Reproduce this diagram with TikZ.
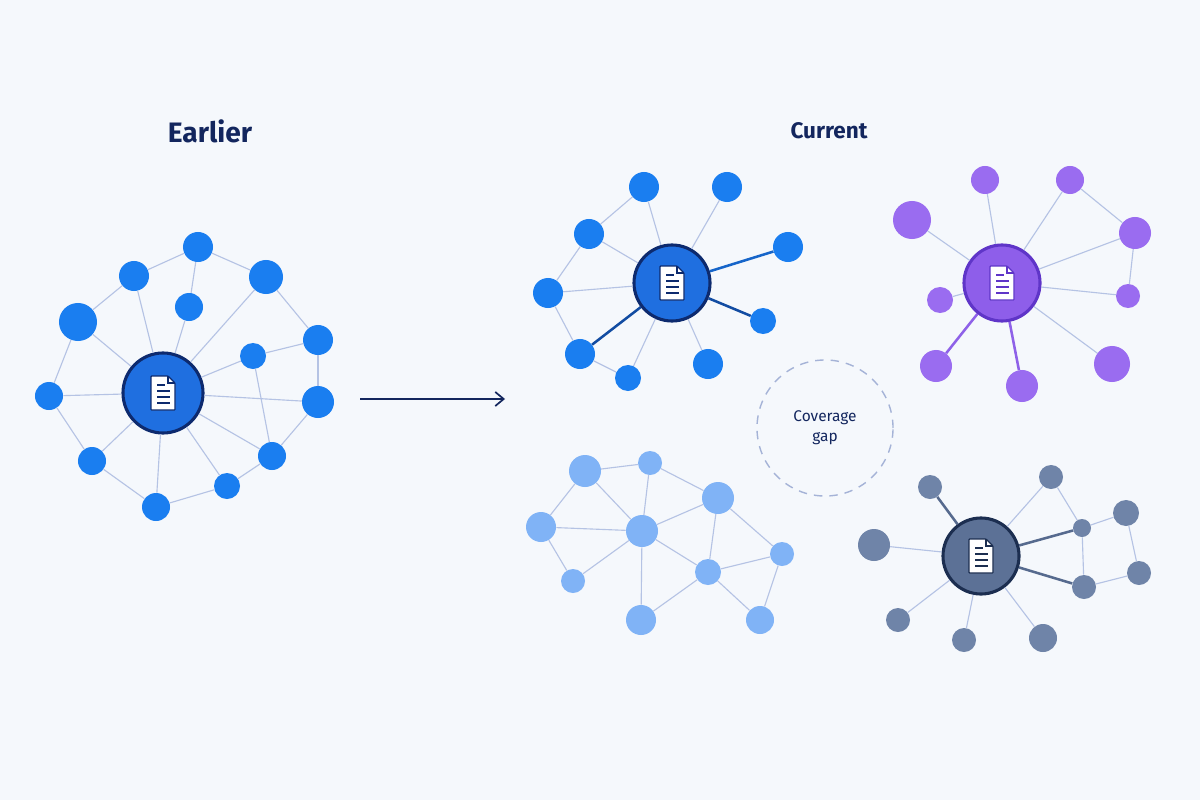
\documentclass[tikz,border=0pt]{standalone}
\usepackage{fontspec}
\setmainfont{Fira Sans}
\usetikzlibrary{arrows.meta}
\definecolor{bgc}{HTML}{F5F8FC}
\definecolor{navy}{HTML}{13265E}
\definecolor{edgec}{HTML}{B5C3E4}
\definecolor{bluec}{HTML}{1A7EF0}
\definecolor{bluehub}{HTML}{1F6FE0}
\definecolor{blueline}{HTML}{0D2A6E}
\definecolor{purc}{HTML}{9A6CF0}
\definecolor{purhub}{HTML}{8E5EEA}
\definecolor{purline}{HTML}{5F35C8}
\definecolor{lbluec}{HTML}{80B3F6}
\definecolor{grayc}{HTML}{6F84A8}
\definecolor{grayhub}{HTML}{5C7196}
\definecolor{grayline}{HTML}{1C2E50}
\tikzset{
  dot/.style={circle,fill=#1,inner sep=0pt,draw=none},
  hub/.style 2 args={circle,fill=#1,draw=#2,line width=2.2pt,inner sep=0pt,minimum size=1.9cm},
  link/.style={draw=edgec,line width=0.8pt},
  strong/.style={draw=#1,line width=1.8pt},
  pics/doc/.style={code={
    \draw[fill=white,draw=#1,line width=0.8pt,rounded corners=0.5pt]
      (-12,-17) -- (5,-17) -- (12,-10) -- (12,17) -- (-12,17) -- cycle;
    \draw[draw=#1,line width=0.8pt] (5,-17) -- (5,-10) -- (12,-10);
    \draw[draw=#1,line width=1.6pt] (-6,-8) -- (2,-8) (-6,-2) -- (7,-2) (-6,4) -- (7,4) (-6,10) -- (7,10);
  }}
}
\begin{document}
\begin{tikzpicture}[x=0.025cm,y=-0.025cm]
  \fill[bgc] (0,0) rectangle (1200,800);
  \useasboundingbox (0,0) rectangle (1200,800);

  % titles
  \node[text=navy,font=\bfseries\fontsize{20}{24}\selectfont] (tearly) at (210,131) {Earlier};
  \node[text=navy,font=\bfseries\fontsize{16}{19}\selectfont] (tcur) at (829,131) {Current};

  % earlier network
  \node[hub={bluehub}{blueline},minimum size=2cm] (h0) at (163,393) {};
  \pic at (h0) {doc=blueline};
  \node[dot=bluec,minimum size=0.75cm] (a1) at (198,247) {};
  \node[dot=bluec,minimum size=0.75cm] (a2) at (134,276) {};
  \node[dot=bluec,minimum size=0.95cm] (a3) at (78,322) {};
  \node[dot=bluec,minimum size=0.7cm] (a4) at (49,396) {};
  \node[dot=bluec,minimum size=0.7cm] (a5) at (92,461) {};
  \node[dot=bluec,minimum size=0.7cm] (a6) at (156,507) {};
  \node[dot=bluec,minimum size=0.65cm] (a7) at (227,486) {};
  \node[dot=bluec,minimum size=0.7cm] (a8) at (272,456) {};
  \node[dot=bluec,minimum size=0.8cm] (a9) at (318,402) {};
  \node[dot=bluec,minimum size=0.75cm] (a10) at (318,340) {};
  \node[dot=bluec,minimum size=0.65cm] (a11) at (253,356) {};
  \node[dot=bluec,minimum size=0.85cm] (a12) at (266,277) {};
  \node[dot=bluec,minimum size=0.7cm] (a13) at (189,307) {};
  \foreach \i in {2,3,4,5,6,7,8,9,11,12,13}
    \draw[link] (h0) -- (a\i);
  \foreach \i/\j in {1/2,1/12,1/13,2/3,3/4,4/5,5/6,6/7,7/8,8/9,8/11,9/10,10/11,12/10}
    \draw[link] (a\i) -- (a\j);

  % arrow
  \coordinate (ar0) at (360,399);
  \coordinate (ar1) at (505,399);
  \draw[navy,line width=1.2pt,-{Straight Barb[length=6pt,width=10pt]}] (ar0) -- (ar1);

  % blue current network
  \node[hub={bluehub}{blueline}] (hb) at (672,283) {};
  \pic at (hb) {doc=blueline};
  \node[dot=bluec,minimum size=0.75cm] (b1) at (644,187) {};
  \node[dot=bluec,minimum size=0.75cm] (b2) at (727,187) {};
  \node[dot=bluec,minimum size=0.75cm] (b3) at (589,234) {};
  \node[dot=bluec,minimum size=0.75cm] (b4) at (788,247) {};
  \node[dot=bluec,minimum size=0.75cm] (b5) at (548,293) {};
  \node[dot=bluec,minimum size=0.65cm] (b6) at (763,321) {};
  \node[dot=bluec,minimum size=0.75cm] (b7) at (580,354) {};
  \node[dot=bluec,minimum size=0.65cm] (b8) at (628,378) {};
  \node[dot=bluec,minimum size=0.75cm] (b9) at (708,364) {};
  \foreach \i in {1,2,3,5,8,9}
    \draw[link] (hb) -- (b\i);
  \draw[strong=bluec!70!blueline] (hb) -- (b4);
  \draw[strong=bluec!40!blueline] (hb) -- (b6);
  \draw[strong=bluec!40!blueline] (hb) -- (b7);
  \foreach \i/\j in {3/1,3/5,5/7,7/8}
    \draw[link] (b\i) -- (b\j);

  % purple network
  \node[hub={purhub}{purline}] (hp) at (1002,283) {};
  \pic at (hp) {doc=purline};
  \node[dot=purc,minimum size=0.7cm] (p1) at (985,180) {};
  \node[dot=purc,minimum size=0.7cm] (p2) at (1070,180) {};
  \node[dot=purc,minimum size=0.95cm] (p3) at (912,220) {};
  \node[dot=purc,minimum size=0.8cm] (p4) at (1135,233) {};
  \node[dot=purc,minimum size=0.65cm] (p5) at (940,300) {};
  \node[dot=purc,minimum size=0.6cm] (p6) at (1128,296) {};
  \node[dot=purc,minimum size=0.8cm] (p7) at (936,366) {};
  \node[dot=purc,minimum size=0.8cm] (p8) at (1022,386) {};
  \node[dot=purc,minimum size=0.9cm] (p9) at (1112,364) {};
  \foreach \i in {1,2,3,4,5,6,9}
    \draw[link] (hp) -- (p\i);
  \draw[strong=purc!80!purline] (hp) -- (p7);
  \draw[strong=purc!80!purline] (hp) -- (p8);
  \draw[link] (p2) -- (p4);
  \draw[link] (p4) -- (p6);

  % coverage gap
  \node[circle,draw=edgec!90!navy,dashed,dash pattern=on 6pt off 5pt,line width=1pt,minimum size=3.4cm,
        align=center,text=navy,font=\fontsize{11}{14}\selectfont] (gap) at (825,428) {Coverage\\gap};

  % light blue network
  \node[dot=lbluec,minimum size=0.8cm] (c1) at (585,471) {};
  \node[dot=lbluec,minimum size=0.6cm] (c2) at (650,463) {};
  \node[dot=lbluec,minimum size=0.8cm] (c3) at (718,498) {};
  \node[dot=lbluec,minimum size=0.75cm] (c4) at (541,527) {};
  \node[dot=lbluec,minimum size=0.8cm] (c5) at (642,531) {};
  \node[dot=lbluec,minimum size=0.6cm] (c6) at (782,554) {};
  \node[dot=lbluec,minimum size=0.6cm] (c7) at (573,581) {};
  \node[dot=lbluec,minimum size=0.65cm] (c8) at (708,572) {};
  \node[dot=lbluec,minimum size=0.75cm] (c9) at (641,620) {};
  \node[dot=lbluec,minimum size=0.7cm] (c10) at (760,620) {};
  \foreach \i/\j in {1/2,2/3,1/4,1/5,2/5,3/5,3/8,3/6,4/5,4/7,5/7,5/9,5/8,8/6,8/9,8/10,6/10}
    \draw[link] (c\i) -- (c\j);

  % gray network
  \node[hub={grayhub}{grayline}] (hg) at (981,556) {};
  \pic at (hg) {doc=grayline};
  \node[dot=grayc,minimum size=0.6cm] (g1) at (930,487) {};
  \node[dot=grayc,minimum size=0.6cm] (g2) at (1051,477) {};
  \node[dot=grayc,minimum size=0.8cm] (g3) at (874,545) {};
  \node[dot=grayc,minimum size=0.65cm] (g4) at (1126,513) {};
  \node[dot=grayc,minimum size=0.45cm] (g5) at (1082,528) {};
  \node[dot=grayc,minimum size=0.6cm] (g6) at (1139,573) {};
  \node[dot=grayc,minimum size=0.6cm] (g7) at (1084,587) {};
  \node[dot=grayc,minimum size=0.6cm] (g8) at (898,620) {};
  \node[dot=grayc,minimum size=0.6cm] (g9) at (964,640) {};
  \node[dot=grayc,minimum size=0.7cm] (g10) at (1043,638) {};
  \foreach \i in {2,3,8,9,10}
    \draw[link] (hg) -- (g\i);
  \foreach \i in {1,5,7}
    \draw[strong=grayc!70!grayline] (hg) -- (g\i);
  \foreach \i/\j in {2/5,5/4,4/6,6/7,5/7}
    \draw[link] (g\i) -- (g\j);
\end{tikzpicture}
\end{document}
